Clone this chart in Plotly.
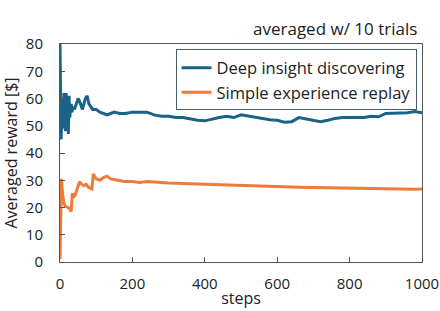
import plotly.graph_objects as go

blue_steps = [0, 1, 2, 3, 5, 7, 9, 11, 13, 15, 17, 19, 21, 23, 25, 27, 29, 31, 33, 36,
              40, 45, 50, 54, 58, 62, 66, 70, 75, 80, 85, 90, 100, 110, 120, 130, 140, 150,
              165, 180, 200, 220, 240, 260, 280, 300, 320, 340, 360, 380, 400, 420, 440,
              460, 480, 500, 520, 540, 560, 580, 600, 620, 640, 660, 680, 700, 720, 740,
              760, 780, 800, 820, 840, 860, 880, 900, 920, 940, 960, 980, 1000]
blue_vals = [80, 72, 58, 45, 52, 60, 49, 62, 55, 48, 62, 50, 58, 47, 61, 53, 56, 58, 55, 57,
             56, 58, 60, 59, 57, 56, 58, 60, 61, 58, 57, 56, 56, 55, 54.5, 54, 54.5, 55,
             54.5, 54.5, 55, 55, 55, 54, 53.5, 53.5, 53, 53, 52.5, 52, 51.8, 52.5, 53,
             53.5, 53, 54, 53.5, 53, 52.5, 52.2, 52, 51.3, 51.5, 53, 52.5, 52, 51.5, 52,
             52.7, 53, 53, 53.2, 53, 53.5, 53.3, 54.5, 54.6, 54.6, 54.8, 55.2, 54.8]

orange_steps = [0, 2, 4, 6, 8, 10, 14, 18, 22, 27, 31, 34, 38, 42, 46, 50, 54, 60, 66, 72,
                78, 84, 88, 92, 96, 100, 110, 120, 130, 140, 160, 180, 200, 220, 240, 260,
                280, 300, 340, 380, 420, 460, 500, 540, 580, 620, 660, 700, 740, 780, 820,
                860, 900, 940, 980, 1000]
orange_vals = [1, 15, 30.5, 27, 24, 22, 20.5, 20.3, 20, 19.5, 18.5, 25.2, 24, 24.5, 26, 28,
               29.5, 28.5, 28, 28.5, 27.5, 27, 26.8, 32.3, 31.5, 30.5, 30, 31, 31.5, 30.5,
               30, 29.5, 29.5, 29.2, 29.5, 29.3, 29, 29, 28.8, 28.6, 28.4, 28.2, 28, 27.8,
               27.6, 27.5, 27.4, 27.3, 27.2, 27.1, 27, 26.8, 26.8, 26.8, 26.7, 26.8]

series_names = ["Deep insight discovering", "Simple experience replay"]
x_ticks = [0, 200, 400, 600, 800, 1000]
y_ticks = [0, 10, 20, 30, 40, 50, 60, 70, 80]

FONT = "Open Sans"
fig = go.Figure()
fig.add_trace(go.Scatter(x=blue_steps, y=blue_vals, mode="lines", name=series_names[0],
                         line=dict(color="#1a6386", width=3)))
fig.add_trace(go.Scatter(x=orange_steps, y=orange_vals, mode="lines", name=series_names[1],
                         line=dict(color="#ef7b3b", width=3)))

axis_common = dict(showline=True, linecolor="#555555", linewidth=1, mirror=True,
                   ticks="inside", ticklen=5, tickcolor="#555555", showgrid=False,
                   zeroline=False, automargin=False,
                   tickfont=dict(family=FONT, size=15, color="#222"))
fig.update_xaxes(range=[0, 1000], tickvals=x_ticks, ticklabelstandoff=8,
                 title=dict(text="steps", font=dict(family=FONT, size=16, color="#222"), standoff=0),
                 **axis_common)
fig.update_yaxes(range=[0, 80], tickvals=y_ticks, ticklabelstandoff=13,
                 title=dict(text="Averaged reward [$]", font=dict(family=FONT, size=16, color="#222"), standoff=4),
                 **axis_common)

fig.update_layout(
    width=440, height=311,
    margin=dict(l=60, r=18, t=44, b=49),
    plot_bgcolor="white", paper_bgcolor="white",
    font=dict(family=FONT, size=14, color="#222"),
    legend=dict(x=0.985, y=0.975, xanchor="right", yanchor="top",
                bordercolor="#4a5a66", borderwidth=1, bgcolor="white",
                font=dict(family=FONT, size=16.5, color="#222"),
                tracegroupgap=0, itemwidth=30),
    showlegend=True,
    annotations=[dict(text="averaged w/ 10 trials", x=1, y=1, xref="paper", yref="paper",
                      xanchor="right", yanchor="bottom", yshift=2, xshift=-3, showarrow=False,
                      font=dict(family=FONT, size=17, color="#222"))],
)
fig.write_html("out.html", config={"displayModeBar": False},
               post_script="document.body.style.margin='0';")
